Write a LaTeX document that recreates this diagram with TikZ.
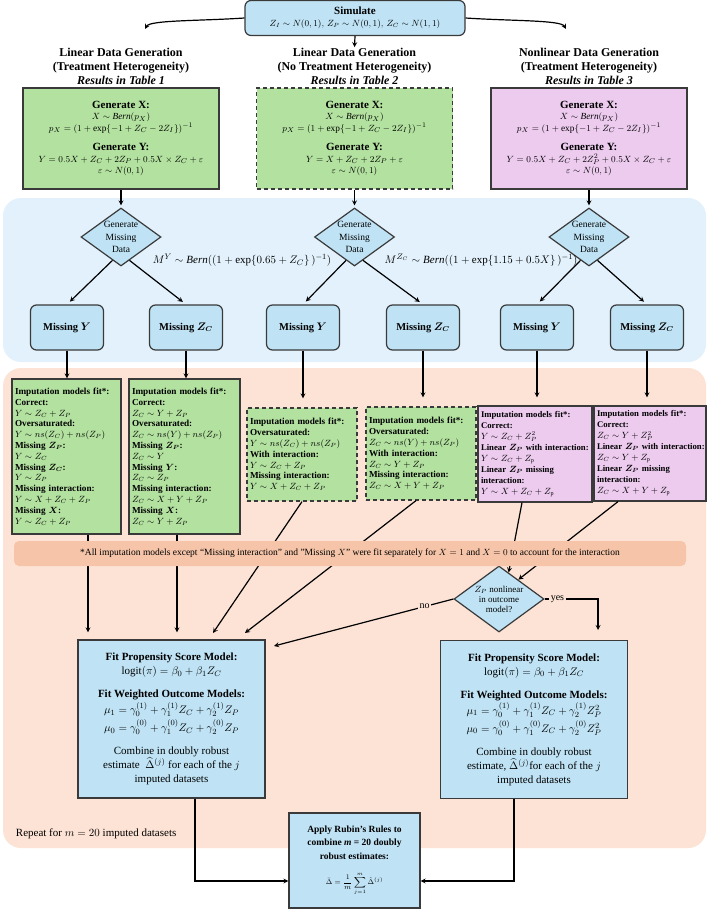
\documentclass[tikz,border=0pt]{standalone}
\usepackage{fontspec}
\setmainfont{Liberation Serif}
\usepackage{amsmath,bm}
\usetikzlibrary{shapes.geometric}

\definecolor{bandblue}{HTML}{E2F1FB}
\definecolor{bandsalmon}{HTML}{FCE3D5}
\definecolor{notesalmon}{HTML}{F6C5A9}
\definecolor{boxblue}{HTML}{BFE3F5}
\definecolor{boxgreen}{HTML}{B3E2A0}
\definecolor{boxpink}{HTML}{EDCBEF}
\definecolor{rim}{HTML}{3A3A3A}

\newcommand{\fsz}[2]{\fontsize{#1}{#2}\selectfont}
\newcommand{\gen}[1]{{\fsz{11}{14}\bfseries #1}}

\begin{document}
\begin{tikzpicture}[>=stealth, x=1pt, y=-1pt, line width=1.2pt,
    hdr/.style={align=center, inner sep=0pt, font=\fsz{12}{14}\bfseries},
    rbox/.style={draw=rim, rounded corners=6pt, fill=boxblue},
    genbox/.style={draw=rim, minimum width=196pt, minimum height=101pt, align=center, inner sep=0pt, font=\fsz{9.3}{11.5}},
    mdiam/.style={shape=diamond, draw=rim, fill=boxblue, aspect=1.38, inner sep=-3pt, minimum width=80pt, minimum height=58pt, align=center, font=\fsz{9.5}{12.5}},
    miss/.style={rbox, minimum width=73pt, minimum height=45pt, font=\fsz{10.5}{12}\bfseries},
    imp/.style={draw=rim, align=left, inner xsep=3pt, inner ysep=2pt, font=\fsz{9.2}{10.8}},
    pimp/.style={imp, fill=boxpink, font=\fsz{8.7}{11}},
    fitbox/.style={draw=rim, fill=boxblue, align=center, minimum width=187pt, minimum height=158pt, inner sep=0pt, font=\fsz{11}{14}},
    lbl/.style={fill=bandsalmon, inner sep=1.5pt, font=\fsz{10}{12}},
    dash4/.style={dash pattern=on 4pt off 3pt}]

  \useasboundingbox (0,0) rectangle (709,910);
  \fill[white] (0,0) rectangle (709,910);

  % background bands
  \fill[bandblue, rounded corners=18pt] (3,198) rectangle (706,362);
  \fill[bandsalmon, rounded corners=18pt] (3,368) rectangle (706,848);

  % simulation step and the three data generating settings
  \node[rbox, minimum width=220pt, minimum height=35pt, align=center, inner sep=0pt] (sim) at (355,18)
    {\gen{Simulate}\\ {\fsz{9}{11}$Z_I\sim N(0,1),\,Z_P\sim N(0,1),\,Z_C\sim N(1,1)$}};

  \node[hdr] (h1) at (121,66) {Linear Data Generation\\(Treatment Heterogeneity)\\\textit{Results in Table 1}};
  \node[hdr] (h2) at (354.5,66) {Linear Data Generation\\(No Treatment Heterogeneity)\\\textit{Results in Table 2}};
  \node[hdr] (h3) at (589,66) {Nonlinear Data Generation\\(Treatment Heterogeneity)\\\textit{Results in Table 3}};

  \coordinate (hl) at (145,29);
  \coordinate (hr) at (566,29);
  \draw[->] (sim.west) .. controls (200,21) and (150,20) .. (hl);
  \draw[->] (sim.east) .. controls (510,21) and (561,20) .. (hr);
  \draw[->] (sim.south) -- (h2.north);

  \node[genbox, fill=boxgreen] (gL) at (121,138.5)
    {\gen{Generate X:}\\ $X\sim\mathit{Bern}(p_X)$\\ $p_X=(1+\exp\{-1+Z_C-2Z_I\})^{-1}$\\[8pt]
     \gen{Generate Y:}\\ $Y=0.5X+Z_C+2Z_P+0.5X\times Z_C+\varepsilon$\\ $\varepsilon\sim N(0,1)$};
  \node[genbox, fill=boxgreen, dash4] (gM) at (354.5,138.5)
    {\gen{Generate X:}\\ $X\sim\mathit{Bern}(p_X)$\\ $p_X=(1+\exp\{-1+Z_C-2Z_I\})^{-1}$\\[8pt]
     \gen{Generate Y:}\\ $Y=X+Z_C+2Z_P+\varepsilon$\\ $\varepsilon\sim N(0,1)$};
  \node[genbox, fill=boxpink] (gR) at (589,138.5)
    {\gen{Generate X:}\\ $X\sim\mathit{Bern}(p_X)$\\ $p_X=(1+\exp\{-1+Z_C-2Z_I\})^{-1}$\\[8pt]
     \gen{Generate Y:}\\ $Y=0.5X+Z_C+2Z_P^2+0.5X\times Z_C+\varepsilon$\\ $\varepsilon\sim N(0,1)$};

  % missingness
  \node[mdiam] (d1) at (121,237) {Generate\\Missing\\Data};
  \node[mdiam] (d2) at (354.5,237) {Generate\\Missing\\Data};
  \node[mdiam] (d3) at (589,237) {Generate\\Missing\\Data};
  \draw[->, shorten >=2pt] (gL.south) -- (d1.north);
  \draw[->, shorten >=2pt] (gM.south) -- (d2.north);
  \draw[->, shorten >=2pt] (gR.south) -- (d3.north);

  \node[font=\fsz{11}{13}] (my) at (242,260) {$M^Y\sim\mathit{Bern}((1+\exp\{0.65+Z_C\}\,)^{-1})$};
  \node[font=\fsz{11}{13}] (mz) at (481,260) {$M^{Z_C}\sim\mathit{Bern}((1+\exp\{1.15+0.5X\}\,)^{-1})$};

  \node[miss] (mY1) at (67,327.5) {Missing $\bm{Y}$};
  \node[miss] (mZ1) at (186,327.5) {Missing $\bm{Z_C}$};
  \node[miss] (mY2) at (303,327.5) {Missing $\bm{Y}$};
  \node[miss] (mZ2) at (423,327.5) {Missing $\bm{Z_C}$};
  \node[miss] (mY3) at (537,327.5) {Missing $\bm{Y}$};
  \node[miss] (mZ3) at (647,327.5) {Missing $\bm{Z_C}$};
  \foreach \d/\a/\b in {d1/mY1/mZ1, d2/mY2/mZ2, d3/mY3/mZ3} {
    \draw[->, shorten >=4pt] (\d.250) -- (\a.north);
    \draw[->, shorten >=4pt] (\d.290) -- (\b.north);
  }

  % imputation models
  \node[imp, fill=boxgreen, text width=103pt, minimum height=155pt] (L1) at (66.5,456.5)
    {\textbf{Imputation models fit*:}\\ \textbf{Correct:}\\ $Y\sim Z_C+Z_P$\\
     \textbf{Oversaturated:}\\ $Y\sim ns(Z_C)+ns(Z_P)$\\
     \textbf{Missing $\bm{Z_P}$:}\\ $Y\sim Z_C$\\
     \textbf{Missing $\bm{Z_C}$:}\\ $Y\sim Z_P$\\
     \textbf{Missing interaction:}\\ $Y\sim X+Z_C+Z_P$\\
     \textbf{Missing $\bm{X}$:}\\ $Y\sim Z_C+Z_P$};
  \node[imp, fill=boxgreen, text width=105pt, minimum height=155pt] (L2) at (184.5,456.5)
    {\textbf{Imputation models fit*:}\\ \textbf{Correct:}\\ $Z_C\sim Y+Z_P$\\
     \textbf{Oversaturated:}\\ $Z_C\sim ns(Y)+ns(Z_P)$\\
     \textbf{Missing $\bm{Z_P}$:}\\ $Z_C\sim Y$\\
     \textbf{Missing $\bm{Y}$:}\\ $Z_C\sim Z_P$\\
     \textbf{Missing interaction:}\\ $Z_C\sim X+Y+Z_P$\\
     \textbf{Missing $\bm{X}$:}\\ $Z_C\sim Y+Z_P$};
  \node[imp, fill=boxgreen, dash4, text width=104pt, minimum height=93pt] (M1) at (302,454.5)
    {\textbf{Imputation models fit*:}\\ \textbf{Oversaturated:}\\ $Y\sim ns(Z_C)+ns(Z_P)$\\
     \textbf{With interaction:}\\ $Y\sim Z_C+Z_P$\\
     \textbf{Missing interaction:}\\ $Y\sim X+Z_C+Z_P$};
  \node[imp, fill=boxgreen, dash4, text width=104pt, minimum height=93pt] (M2) at (421,453.5)
    {\textbf{Imputation models fit*:}\\ \textbf{Oversaturated:}\\ $Z_C\sim ns(Y)+ns(Z_P)$\\
     \textbf{With interaction:}\\ $Z_C\sim Y+Z_P$\\
     \textbf{Missing interaction:}\\ $Z_C\sim X+Y+Z_P$};
  \node[pimp, text width=108pt, minimum height=96pt] (R1) at (535,454)
    {\textbf{Imputation models fit*:}\\ \textbf{Correct:}\\ $Y\sim Z_C+Z_P^2$\\
     \mbox{\textbf{Linear $\bm{Z_P}$ with interaction:}}\\ $Y\sim Z_C+Z_{\mathrm{p}}$\\
     \textbf{Linear $\bm{Z_P}$ missing}\\ \textbf{interaction:}\\ $Y\sim X+Z_C+Z_{\mathrm{p}}$};
  \node[pimp, text width=106pt, minimum height=95pt] (R2) at (650,453.5)
    {\textbf{Imputation models fit*:}\\ \textbf{Correct:}\\ $Z_C\sim Y+Z_P^2$\\
     \mbox{\textbf{Linear $\bm{Z_P}$ with interaction:}}\\ $Z_C\sim Y+Z_{\mathrm{p}}$\\
     \textbf{Linear $\bm{Z_P}$ missing}\\ \textbf{interaction:}\\ $Z_C\sim X+Y+Z_{\mathrm{p}}$};

  \draw[->] (mY1.south) -- (mY1.south |- L1.north);
  \draw[->] (mZ1.south) -- (mZ1.south |- L2.north);
  \draw[->, shorten >=9pt] (mY2.south) -- (mY2.south |- M1.north);
  \draw[->, shorten >=9pt] (mZ2.south) -- (mZ2.south |- M2.north);
  \draw[->, shorten >=8pt] (mY3.south) -- (mY3.south |- R1.north);
  \draw[->, shorten >=8pt] (mZ3.south) -- (mZ3.south |- R2.north);

  % outcome model fitting
  \node[fitbox] (fitL) at (171.5,719)
    {\textbf{Fit Propensity Score Model:}\\ $\mathrm{logit}(\pi)=\beta_0+\beta_1Z_C$\\[9pt]
     \textbf{Fit Weighted Outcome Models:}\\[1pt]
     $\mu_1=\gamma_0^{(1)}+\gamma_1^{(1)}Z_C+\gamma_2^{(1)}Z_P$\\[2pt]
     $\mu_0=\gamma_0^{(0)}+\gamma_1^{(0)}Z_C+\gamma_2^{(0)}Z_P$\\[9pt]
     Combine in doubly robust\\ estimate \ $\widehat{\Delta}^{(j)}$ for each of the $j$\\ imputed datasets};
  \node[fitbox] (fitR) at (534,719.5)
    {\textbf{Fit Propensity Score Model:}\\ $\mathrm{logit}(\pi)=\beta_0+\beta_1Z_C$\\[9pt]
     \textbf{Fit Weighted Outcome Models:}\\[1pt]
     $\mu_1=\gamma_0^{(1)}+\gamma_1^{(1)}Z_C+\gamma_2^{(1)}Z_P^2$\\[2pt]
     $\mu_0=\gamma_0^{(0)}+\gamma_1^{(0)}Z_C+\gamma_2^{(0)}Z_P^2$\\[9pt]
     Combine in doubly robust\\ estimate, $\widehat{\Delta}^{(j)}$for each of the $j$\\ imputed datasets};

  \node[shape=diamond, draw=rim, fill=boxblue, aspect=1.36, inner sep=0pt, minimum width=90pt, minimum height=66pt, align=center, font=\fsz{9}{10}] (zp) at (499,599)
    {$Z_P$ nonlinear\\in outcome\\model?};

  \coordinate (a3) at (213,633);
  \coordinate (a4) at (245,633);
  \coordinate (noend) at (274,646);
  \coordinate (yesend) at (598,630);

  \draw[->, shorten >=7pt] ([xshift=21.5pt]L1.south) -- ([xshift=21.5pt]L1.south |- fitL.north);
  \draw[->, shorten >=7pt] ([xshift=-7.5pt]L2.south) -- ([xshift=-7.5pt]L2.south |- fitL.north);
  \draw[->] (M1.south) -- (a3);
  \draw[->] ([xshift=-5pt]M2.south) -- (a4);
  \draw[->] ([xshift=-13pt]R1.south) -- (zp.70);
  \draw[->] ([xshift=-32pt]R2.south) -- (zp.45);

  \node[fill=notesalmon, rounded corners=5pt, minimum width=672pt, minimum height=25pt, font=\fsz{9.5}{11}] (note) at (350,553.5)
    {*All imputation models except “Missing interaction” and "Missing $X$" were fit separately for $X=1$ and $X=0$ to account for the interaction};

  \draw[->] (zp.west) -- node[lbl, pos=0.16] (nolbl) {no} (noend);
  \draw[->] (zp.east) -| node[lbl, pos=0.12] (yeslbl) {yes} (yesend);

  % pooling
  \node[font=\fsz{11}{13}, anchor=west] (rep) at (12,834) {Repeat for $m=20$ imputed datasets};
  \node[draw=rim, fill=boxblue, minimum width=131pt, minimum height=95pt, inner sep=0pt, align=center, font=\fsz{9.5}{13.5}] (rubin) at (354.5,860.5)
    {\textbf{Apply Rubin's Rules to}\\ \textbf{combine \textit{m} = 20 doubly}\\ \textbf{robust estimates:}\\[12pt]
     {\fsz{7.5}{9}$\displaystyle\bar{\Delta}=\frac{1}{m}\sum_{j=1}^{m}\hat{\Delta}^{(j)}$}};
  \draw[->] ([xshift=23.5pt]fitL.south) |- ([yshift=-20.5pt]rubin.west);
  \draw[->] ([xshift=-20pt]fitR.south) |- ([yshift=-20.5pt]rubin.east);
\end{tikzpicture}
\end{document}
